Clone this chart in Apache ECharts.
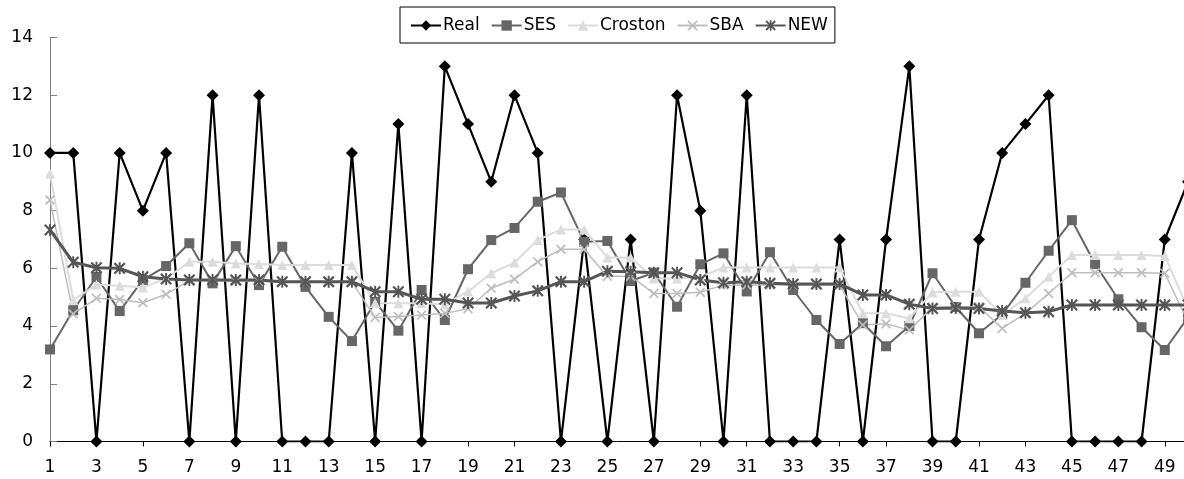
<!DOCTYPE html>
<html>
<head>
<meta charset="utf-8">
<script src="https://cdn.jsdelivr.net/npm/echarts@6/dist/echarts.min.js"></script>
<style>
html,body{margin:0;padding:0;background:#fff;}
#chart{width:1184px;height:479px;}
</style>
</head>
<body>
<div id="chart"></div>
<script>
const categories = ['1','2','3','4','5','6','7','8','9','10','11','12','13','14','15','16','17','18','19','20','21','22','23','24','25','26','27','28','29','30','31','32','33','34','35','36','37','38','39','40','41','42','43','44','45','46','47','48','49','50'];
const yTicks = [0, 2, 4, 6, 8, 10, 12, 14];
const seriesNames = ['Real', 'SES', 'Croston', 'SBA', 'NEW'];

const real = [10,10,0,10,8,10,0,12,0,12,0,0,0,10,0,11,0,13,11,9,12,10,0,7,0,7,0,12,8,0,12,0,0,0,7,0,7,13,0,0,7,10,11,12,0,0,0,0,7,9];
const ses = [3.19,4.55,5.7,4.52,5.6,6.08,6.87,5.48,6.77,5.42,6.75,5.36,4.32,3.48,4.84,3.84,5.25,4.21,5.97,6.98,7.4,8.31,8.63,6.92,6.95,5.56,5.85,4.67,6.14,6.52,5.2,6.56,5.25,4.21,3.38,4.1,3.3,4.0,5.83,4.66,3.75,4.4,5.5,6.61,7.67,6.15,4.93,3.96,3.17,4.3];
const croston = [9.29,4.9,5.44,5.4,5.34,5.65,6.23,6.23,6.17,6.15,6.12,6.12,6.12,6.12,4.8,4.79,4.79,4.75,5.2,5.83,6.2,6.98,7.35,7.35,6.38,6.38,5.65,5.65,5.7,6.03,6.03,6.03,6.03,6.03,6.03,4.44,4.44,4.27,5.17,5.19,5.19,4.38,4.96,5.71,6.46,6.46,6.46,6.46,6.43,4.6];
const sba = [8.37,4.42,4.96,4.92,4.81,5.1,5.58,5.58,5.55,5.55,5.52,5.52,5.52,5.52,4.3,4.33,4.38,4.44,4.6,5.31,5.62,6.23,6.66,6.66,5.73,5.73,5.13,5.13,5.17,5.42,5.42,5.42,5.42,5.42,5.42,4.04,4.08,3.86,4.65,4.67,4.67,3.92,4.44,5.13,5.85,5.85,5.85,5.85,5.83,4.15];
const newer = [7.33,6.21,6.02,6.0,5.71,5.63,5.6,5.6,5.6,5.6,5.54,5.54,5.54,5.54,5.19,5.19,4.93,4.93,4.8,4.8,5.04,5.22,5.54,5.54,5.9,5.88,5.85,5.85,5.6,5.5,5.54,5.48,5.46,5.46,5.46,5.08,5.08,4.76,4.61,4.63,4.61,4.52,4.46,4.5,4.73,4.73,4.73,4.73,4.73,4.73];

const FONT = 'DejaVu Sans';
const xPath = 'path://M0,1.2L1.2,0L5,3.8L8.8,0L10,1.2L6.2,5L10,8.8L8.8,10L5,6.2L1.2,10L0,8.8L3.8,5Z';
const starPath = 'path://M0,1.3L1.3,0L5,3.7L8.7,0L10,1.3L6.3,5L10,8.7L8.7,10L5,6.3L1.3,10L0,8.7L3.7,5Z M4.2,0L5.8,0L5.8,10L4.2,10Z';

function mk(name, data, color, width, symbol, size) {
  return {
    name: name, type: 'line', data: data,
    symbol: symbol, symbolSize: size, showSymbol: true,
    lineStyle: { color: color, width: width },
    itemStyle: { color: color, borderWidth: 0 },
    emphasis: { disabled: true },
    animation: false
  };
}

const chart = echarts.init(document.getElementById('chart'), null, { renderer: 'canvas' });
chart.setOption({
  backgroundColor: '#fff',
  animation: false,
  textStyle: { fontFamily: FONT },
  legend: {
    data: seriesNames,
    left: 400, top: 7,
    padding: [10, 7, 9, 10],
    itemGap: 11,
    itemWidth: 30, itemHeight: 13,
    borderColor: '#000', borderWidth: 1,
    textStyle: { fontFamily: FONT, fontSize: 17, color: '#000', padding: [0, 0, 0, -3] }
  },
  grid: { left: 50, width: 1138, top: 37.5, bottom: 37.5, containLabel: false, outerBoundsMode: 'none' },
  xAxis: {
    type: 'category', data: categories, boundaryGap: false,
    axisLine: { lineStyle: { color: '#000', width: 1 } },
    axisTick: { show: true, interval: 1, length: 5, lineStyle: { color: '#000' } },
    axisLabel: { interval: 1, margin: 18, fontFamily: FONT, fontSize: 17, color: '#000' },
    splitLine: { show: false }
  },
  yAxis: {
    type: 'value', min: yTicks[0], max: yTicks[yTicks.length - 1], interval: 2,
    axisLine: { show: true, lineStyle: { color: '#808080', width: 1 } },
    axisTick: { show: true, inside: true, length: 7, lineStyle: { color: '#808080' } },
    axisLabel: { margin: 17, fontFamily: FONT, fontSize: 17, color: '#000' },
    splitLine: { show: false }
  },
  series: [
    mk(seriesNames[0], real, '#000000', 2.2, 'diamond', 12),
    mk(seriesNames[1], ses, '#666666', 2, 'rect', 10),
    mk(seriesNames[2], croston, '#dcdcdc', 2, 'triangle', 10),
    mk(seriesNames[3], sba, '#bdbdbd', 1.5, xPath, 10),
    mk(seriesNames[4], newer, '#555555', 3, starPath, 12)
  ]
});
</script>
</body>
</html>
